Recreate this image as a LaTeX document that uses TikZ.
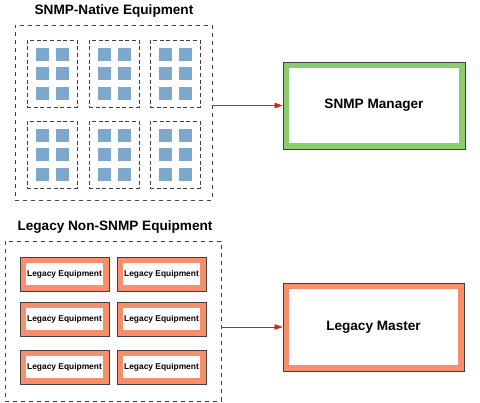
\documentclass[tikz,border=0pt]{standalone}
\usepackage{fontspec}
\setmainfont{Liberation Sans}
\usetikzlibrary{fit,shadows,arrows.meta}

\definecolor{sqblue}{HTML}{7EA8CB}
\definecolor{mgrgreen}{HTML}{8BCD6E}
\definecolor{legorange}{HTML}{F98E6D}
\definecolor{frameline}{HTML}{3F3F3F}
\definecolor{linkred}{HTML}{E31A1A}

\tikzset{
  groupbox/.style={draw=black!75,dashed,line width=0.6pt,inner sep=0pt},
  unitbox/.style={draw=black!75,densely dashed,line width=0.5pt,inner sep=0pt},
  frame/.style={draw=frameline,line width=0.5pt,inner sep=0pt,
    drop shadow={opacity=0.2,shadow xshift=1pt,shadow yshift=-1pt}},
  core/.style={fill=white,inner sep=0pt},
  bigtext/.style={font=\bfseries\fontsize{10.2}{12}\selectfont},
  smalltext/.style={font=\bfseries\fontsize{6.3}{7}\selectfont},
  link/.style={draw=linkred,line width=0.5pt,-{Triangle[length=6pt,width=4pt]}}
}

\begin{document}
\begin{tikzpicture}[x=0.75pt,y=-0.75pt]
  \useasboundingbox (0,0) rectangle (480,403);

  % SNMP-native equipment
  \node[bigtext] (nattitle) at (114,11) {SNMP-Native Equipment};
  \node[groupbox,fit={(15,25) (212,200)}] (native) {};
  \foreach \bx in {27,89,150}
    \foreach \by in {40,121} {
      \node[unitbox,fit={(\bx,\by) (\bx+50,\by+67)}] (unit-\bx-\by) {};
      \foreach \dx in {9,29}
        \foreach \dy in {8,27,47}
          \fill[sqblue] (\bx+\dx,\by+\dy) rectangle +(13,13);
    }

  % SNMP manager
  \node[frame,fill=mgrgreen,fit={(283,62) (465,149)}] (mgr) {};
  \node[core,fit={(289,68) (459,143)}] (mgrin) {};
  \node[bigtext] (mgrlabel) at (mgr.center) {SNMP Manager};

  \draw[link] (native.east |- mgr.west) -- (mgr.west);

  % legacy non-SNMP equipment
  \node[bigtext] (legtitle) at (115,227) {Legacy Non-SNMP Equipment};
  \node[groupbox,fit={(5,241) (221,401)}] (legacy) {};
  \foreach \ex in {20,117}
    \foreach \ey in {257,302,350} {
      \node[frame,fill=legorange,fit={(\ex,\ey) (\ex+89,\ey+34)}] (eq-\ex-\ey) {};
      \node[core,fit={(\ex+6,\ey+6) (\ex+83,\ey+28)}] (eqin-\ex-\ey) {};
      \node[smalltext] at (eq-\ex-\ey.center) {Legacy Equipment};
    }

  % legacy master
  \node[frame,fill=legorange,fit={(283,283) (464,371)}] (master) {};
  \node[core,fit={(289,289) (458,365)}] (masterin) {};
  \node[bigtext] (masterlabel) at (master.center) {Legacy Master};

  \draw[link] (legacy.east |- master.west) -- (master.west);
\end{tikzpicture}
\end{document}
